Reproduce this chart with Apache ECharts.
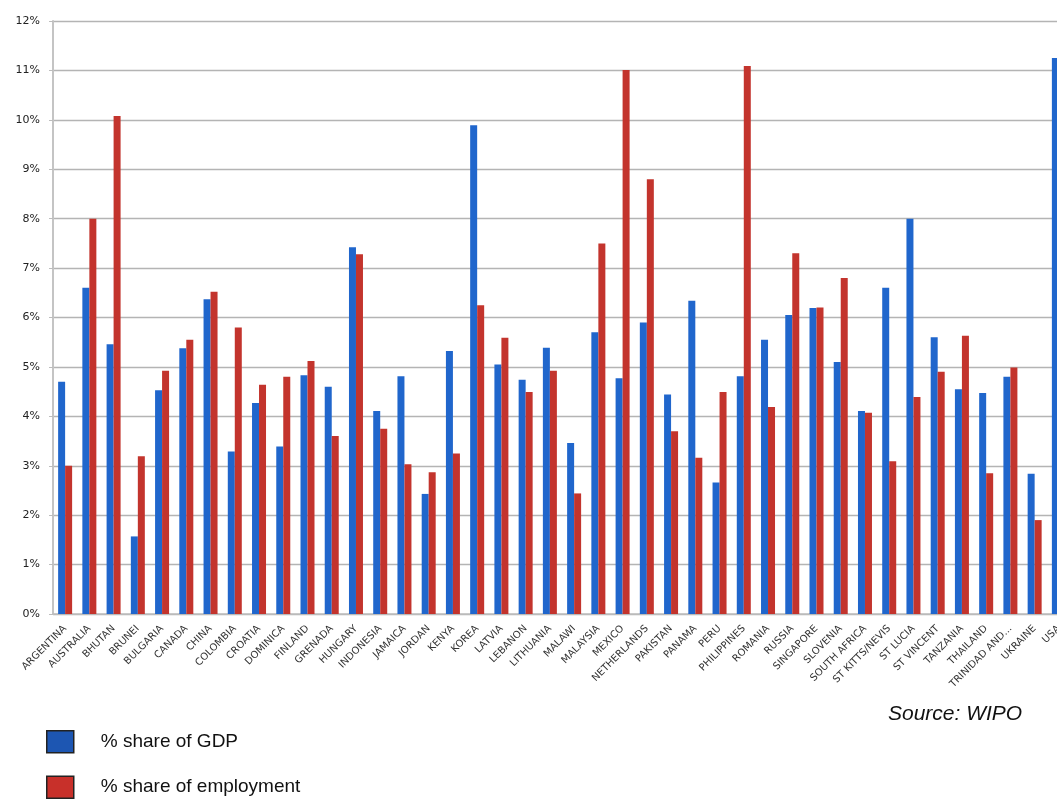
<!DOCTYPE html>
<html>
<head>
<meta charset="utf-8">
<title>Copyright industries share</title>
<script src="https://cdn.jsdelivr.net/npm/echarts/dist/echarts.min.js"></script>
<style>
  html, body { margin: 0; padding: 0; background: #fff; overflow: hidden; }
  /* the original chart is cut off on the right, so the box is wider than the window */
  #chartBox { width: 1072px; height: 799px; }
</style>
</head>
<body>
<div id="chartBox"></div>
<script>
  // countries on the x axis
  var countries = ['ARGENTINA', 'AUSTRALIA', 'BHUTAN', 'BRUNEI', 'BULGARIA', 'CANADA', 'CHINA', 'COLOMBIA',
    'CROATIA', 'DOMINICA', 'FINLAND', 'GRENADA', 'HUNGARY', 'INDONESIA', 'JAMAICA', 'JORDAN', 'KENYA',
    'KOREA', 'LATVIA', 'LEBANON', 'LITHUANIA', 'MALAWI', 'MALAYSIA', 'MEXICO', 'NETHERLANDS', 'PAKISTAN',
    'PANAMA', 'PERU', 'PHILIPPINES', 'ROMANIA', 'RUSSIA', 'SINGAPORE', 'SLOVENIA', 'SOUTH AFRICA',
    'ST KITTS/NEVIS', 'ST LUCIA', 'ST VINCENT', 'TANZANIA', 'THAILAND', 'TRINIDAD AND...', 'UKRAINE', 'USA']

  // % share of GDP
  var gdpShare = [4.70, 6.60, 5.46, 1.57, 4.53, 5.38, 6.37, 3.29,
    4.27, 3.39, 4.83, 4.60, 7.42, 4.11, 4.81, 2.43, 5.32,
    9.89, 5.05, 4.74, 5.39, 3.46, 5.70, 4.77, 5.90, 4.44,
    6.34, 2.66, 4.81, 5.55, 6.05, 6.19, 5.10, 4.11,
    6.60, 8.00, 5.60, 4.55, 4.47, 4.80, 2.84, 11.25]

  // % share of employment (USA bar is cut off in the picture)
  var empShare = [3.00, 8.00, 10.08, 3.19, 4.92, 5.55, 6.52, 5.80,
    4.64, 4.80, 5.12, 3.60, 7.28, 3.75, 3.03, 2.87, 3.25,
    6.25, 5.59, 4.49, 4.92, 2.44, 7.50, 11.01, 8.80, 3.70,
    3.16, 4.49, 11.09, 4.19, 7.30, 6.20, 6.80, 4.07,
    3.09, 4.39, 4.90, 5.63, 2.85, 4.99, 1.90, null]

  var seriesNames = ['% share of GDP', '% share of employment']

  var chart = echarts.init(document.getElementById('chartBox'))

  var option = {
    animation: false,
    backgroundColor: '#fff',
    grid: {
      left: 53,
      top: 21,
      right: 1,
      height: 593
    },
    legend: {
      orient: 'vertical',
      left: 46,
      top: 730,
      height: 90,
      padding: 0,
      icon: 'rect',
      itemWidth: 27,
      itemHeight: 22,
      itemGap: 22,
      itemStyle: { borderColor: '#222', borderWidth: 1.5 },
      textStyle: {
        fontFamily: 'Liberation Sans',
        fontSize: 19,
        color: '#111',
        padding: [0, 0, 0, 22]
      },
      data: [
        { name: seriesNames[0], itemStyle: { color: '#1d56b2' } },
        { name: seriesNames[1], itemStyle: { color: '#c8302a' } }
      ]
    },
    graphic: [{
      type: 'text',
      left: 888,
      top: 704,
      style: {
        text: 'Source: WIPO',
        font: 'italic 21px "Liberation Sans"',
        fill: '#111'
      }
    }],
    xAxis: {
      type: 'category',
      data: countries,
      axisLine: { lineStyle: { color: '#bdbdbd', width: 1.5 } },
      axisTick: { length: 4, lineStyle: { color: '#bdbdbd' } },
      axisLabel: {
        interval: 0,
        rotate: 45,
        margin: 13,
        fontFamily: 'DejaVu Sans',
        fontSize: 10,
        color: '#333'
      }
    },
    yAxis: {
      type: 'value',
      min: 0,
      max: 12,
      interval: 1,
      axisLine: { show: true, lineStyle: { color: '#c4c4c4', width: 2 } },
      axisTick: { show: true, length: 4, lineStyle: { color: '#bdbdbd' } },
      axisLabel: {
        formatter: '{value}%',
        margin: 13,
        fontFamily: 'DejaVu Sans',
        fontSize: 11,
        color: '#222'
      },
      splitLine: { lineStyle: { color: '#b4b4b4', width: 1.3 } }
    },
    series: [
      {
        name: seriesNames[0],
        type: 'bar',
        barWidth: 7,
        barGap: '0%',
        itemStyle: { color: '#2066cc' },
        data: gdpShare
      },
      {
        name: seriesNames[1],
        type: 'bar',
        barWidth: 7,
        itemStyle: { color: '#c3342d' },
        data: empShare
      }
    ]
  }

  chart.setOption(option)
</script>
</body>
</html>
